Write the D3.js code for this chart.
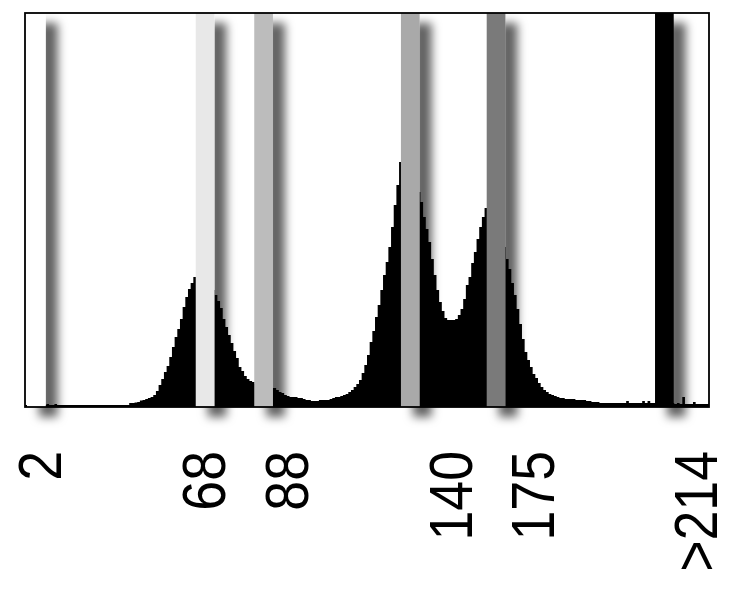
<!DOCTYPE html>
<html>
<head>
<meta charset="utf-8">
<script src="https://cdn.jsdelivr.net/npm/d3@7"></script>
<style>
  html, body { margin: 0; padding: 0; background: #ffffff; }
  svg { display: block; }
</style>
</head>
<body>
<svg id="chart" width="730" height="598"></svg>
<script>
// Histogram counts per bin (256 bins)
const counts = [
  2,2,2,2,2,2,2,2,3,2,
  2,3,2,2,2,2,2,2,2,2,
  2,2,2,2,2,2,2,2,2,2,
  2,2,2,2,2,2,2,2,2,4,
  4,4.5,5,6.5,7,8,9,10,12,16,
  22,28,35,41,50,60,70,78,88,100,
  110,118,124,130,130,128,125,122,120,118,
  117,112,106,99,88,80,72,64,56,49,
  40,36,31,28,26,25,23,22,21,20,
  20,19,19,19,17,15,14,12,11,10,
  10,10,9,9,8,7,7,6,6,6,
  7,7,7,7,8,9,10,10,11,12,
  13,15,17,20,23,27,34,42,52,65,
  76,90,102,117,132,145,160,180,202,222,
  245,247,240,235,228,222,218,215,205,190,
  178,165,148,132,117,105,96,89,87,87,
  87,88,92,98,108,122,130,144,155,168,
  180,190,199,200,198,190,182,172,163,160,
  148,138,124,112,98,83,68,55,47,40,
  33,29,24,20,17,15,13,12,11,10,
  9,9,8,8,8,8,7,7,7,7,
  6,6,5,5,5,4,4,4,4,4,
  4,4,4,4,4,6,4,4,4,4,
  4,6,4,6,4,4,4,4,4,4,
  4,4,4,3,4,3,10,3,3,3,
  5,3,3,3,3,3
];
// Threshold bands: labels, start bin, colour
const bandLabels = ["2", "68", "88", "140", "175", ">214"];
const bandStart  = [0.75, 63.9, 85.8, 140.7, 172.8, 235.8];
const bandWidth  = 7;
const bandColors = ["#ffffff", "#e8e8e8", "#bcbcbc", "#a9a9a9", "#7a7a7a", "#000000"];

(function () {
const svg = d3.select("#chart");
const mLeft = 25, mRight = 709, mTop = 13, mBottom = 407;

const x = d3.scaleLinear().domain([0, counts.length]).range([mLeft, mRight]);
const y = d3.scaleLinear().domain([0, 394]).range([mBottom, mTop]);

const defs = svg.append("defs");
const f = defs.append("filter").attr("id", "shadow")
  .attr("x", "-50%").attr("y", "-10%").attr("width", "300%").attr("height", "130%");
f.append("feDropShadow").attr("dx", 12).attr("dy", 10).attr("stdDeviation", 4.8)
  .attr("flood-color", "#000").attr("flood-opacity", 0.62);

// histogram as a step area
const pts = counts.map((c, i) => [i, c]);
pts.push([counts.length, counts[counts.length - 1]]);
const area = d3.area()
  .x(d => x(d[0]))
  .y0(y(0))
  .y1(d => y(d[1]))
  .curve(d3.curveStepAfter);
svg.append("path").datum(pts).attr("d", area).attr("fill", "#000");

// bands with drop shadow
const bands = bandLabels.map((l, i) => ({ label: l, start: bandStart[i], color: bandColors[i] }));
svg.append("g").selectAll("rect").data(bands).join("rect")
  .attr("x", d => x(d.start))
  .attr("y", mTop)
  .attr("width", d => x(d.start + bandWidth) - x(d.start))
  .attr("height", mBottom - mTop)
  .attr("fill", d => d.color)
  .attr("filter", "url(#shadow)");

// frame
svg.append("rect")
  .attr("x", mLeft).attr("y", mTop)
  .attr("width", mRight - mLeft).attr("height", mBottom - mTop)
  .attr("fill", "none").attr("stroke", "#000").attr("stroke-width", 1.8);

// labels (layout offsets of baseline from band centre, px)
const labelShift = [24.5, 20, 44, 61.5, 58, 53];
svg.append("g").selectAll("text").data(bands).join("text")
  .attr("transform", (d, i) => {
    const cx = x(d.start + bandWidth / 2) + labelShift[i];
    return `translate(${cx},451) rotate(-90) scale(0.88,1)`;
  })
  .attr("text-anchor", "end")
  .attr("font-family", "Liberation Sans, Arial, sans-serif")
  .attr("font-size", 61)
  .attr("fill", "#000")
  .text(d => d.label);
})();
</script>
</body>
</html>
